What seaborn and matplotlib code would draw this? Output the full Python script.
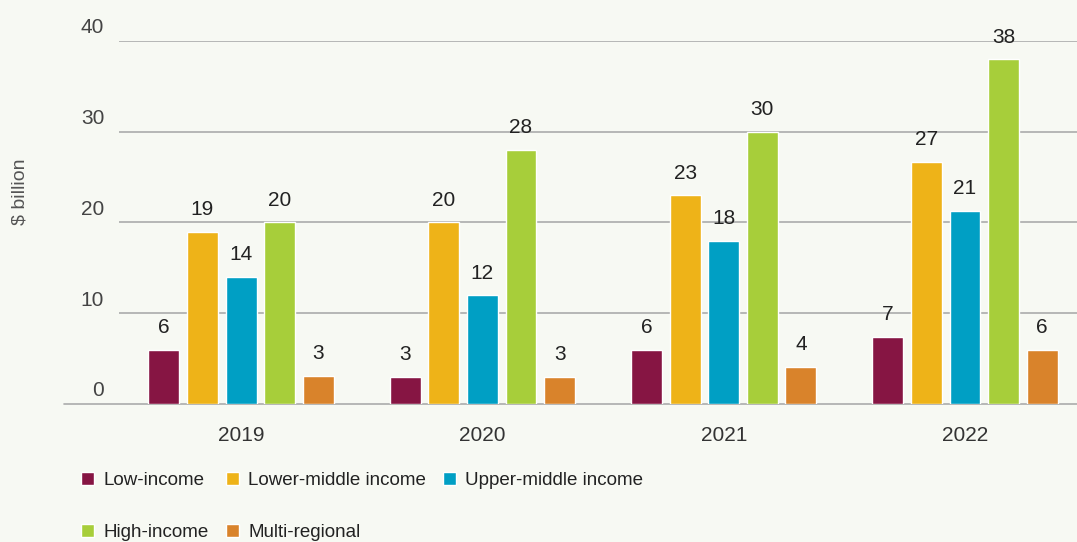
import pandas as pd
import numpy as np
import matplotlib.pyplot as plt
import seaborn as sns

# Data ($ billion)
years = ['2019', '2020', '2021', '2022']
groups = ['Low-income', 'Lower-middle income', 'Upper-middle income',
          'High-income', 'Multi-regional']
low_income = [6, 3, 6, 7.4]
lower_middle = [19, 20, 23, 26.7]
upper_middle = [14, 12, 18, 21.3]
high_income = [20, 28, 30, 38]
multi_regional = [3.1, 3, 4.1, 6]
colors = ['#861543', '#EEB318', '#009FC4', '#A7CE3A', '#D9832B']

series = [low_income, lower_middle, upper_middle, high_income, multi_regional]
rows = []
for g, vals in zip(groups, series):
    for y, v in zip(years, vals):
        rows.append({'Year': y, 'Group': g, 'Value': v})
df = pd.DataFrame(rows)

bg = '#F7F9F3'
sns.set_style('white')
plt.rcParams['font.family'] = ['Liberation Sans', 'DejaVu Sans']

fig = plt.figure(figsize=(10.77, 5.42), dpi=100, facecolor=bg)
ax = fig.add_axes([119 / 1077, 1 - 404 / 542, 958 / 1077, 363 / 542])
ax.set_facecolor(bg)

# Gridlines (drawn behind bars)
for v in [10, 20, 30, 40]:
    ax.axhline(v, color='#ABABAB', lw=1.2, zorder=0)
ax.plot([-0.0574, 1], [0, 0], color='#ABABAB', lw=1.2, zorder=0,
        transform=ax.get_yaxis_transform(), clip_on=False)

sns.barplot(data=df, x='Year', y='Value', hue='Group', order=years,
            hue_order=groups, palette=colors, errorbar=None, width=0.8,
            gap=0.2, edgecolor='white', linewidth=1, saturation=1,
            ax=ax, zorder=2)

for cont in ax.containers:
    ax.bar_label(cont, fmt='{:.0f}', padding=9, fontsize=15, color='#222222')

ax.set_ylim(0, 40)
ax.set_xlim(-0.506, 3.464)
for s in ax.spines.values():
    s.set_visible(False)
ax.set_yticks([0, 10, 20, 30, 40])
ax.set_yticklabels([])
ax.tick_params(axis='both', length=0)
ax.tick_params(axis='x', pad=16, labelsize=15, labelcolor='#333333')
for v in [0, 10, 20, 30, 40]:
    ax.text(-0.0155, v + 0.4, str(v), transform=ax.get_yaxis_transform(),
            ha='right', va='bottom', fontsize=15, color='#444444')
ax.set_xlabel('')
ax.set_ylabel('')
fig.text(20 / 1077, 1 - 192 / 542, '$ billion', rotation=90, ha='center',
         va='center', fontsize=14, color='#555555')

# Legend: two rows, filled column-wise
handles, labels = ax.get_legend_handles_labels()
ax.get_legend().remove()
order = [0, 3, 1, 4, 2]
fig.legend([handles[i] for i in order], [labels[i] for i in order],
           loc='upper left', bbox_to_anchor=(81 / 1077, 1 - 472 / 542),
           ncol=3, frameon=False,
           prop={'size': 13.5},
           handlelength=0.7, handleheight=0.7, handletextpad=0.5,
           labelspacing=1.85, columnspacing=0.9, labelcolor='#222222',
           borderaxespad=0, borderpad=0)

fig.savefig('out.png', dpi=100, facecolor=bg)
